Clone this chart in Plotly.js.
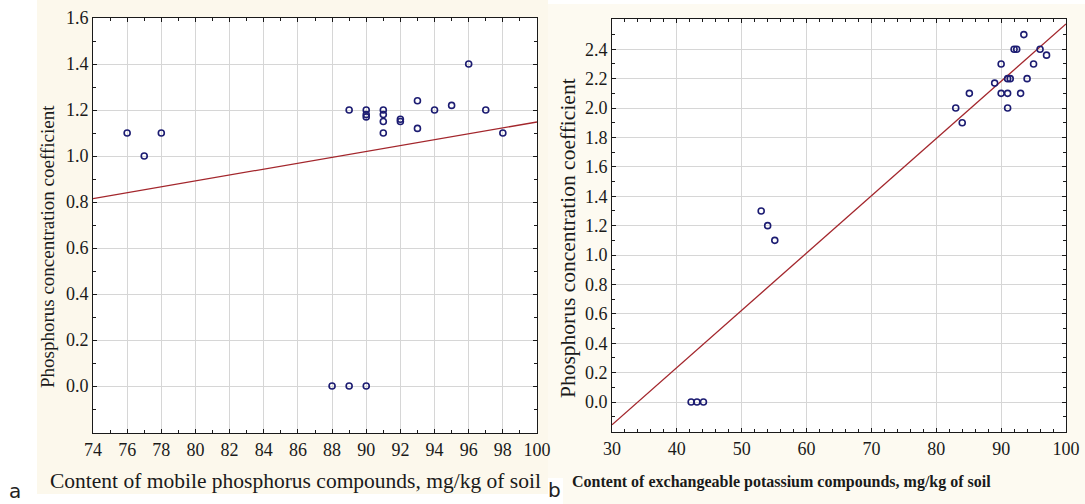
<!DOCTYPE html>
<html>
<head>
<meta charset="utf-8">
<script src="https://cdn.plot.ly/plotly-3.0.1.min.js"></script>
<style>html,body{margin:0;padding:0;background:#fff;}#chart{width:1085px;height:504px;}</style>
</head>
<body>
<div id="chart"></div>
<script>
// Panel a: mobile phosphorus vs phosphorus concentration coefficient
const phosX = [76, 77, 78, 88, 89, 90, 89, 90, 90, 90, 91, 91, 91, 91, 92, 92, 93, 93, 94, 95, 96, 97, 98];
const phosY = [1.10, 1.00, 1.10, 0.00, 0.00, 0.00, 1.20, 1.20, 1.18, 1.17, 1.20, 1.18, 1.15, 1.10, 1.16, 1.15, 1.24, 1.12, 1.20, 1.22, 1.40, 1.20, 1.10];
const phosFitX = [74, 100];
const phosFitY = [0.815, 1.148];
// Panel b: exchangeable potassium vs phosphorus concentration coefficient
const potX = [42.2, 43.1, 44.1, 53.0, 54.0, 55.1, 83.0, 84.0, 85.1, 89.0, 90.0, 90.0, 91.0, 91.4, 91.0, 91.0, 92.0, 92.4, 93.5, 93.0, 94.0, 95.0, 96.0, 97.0];
const potY = [0.00, 0.00, 0.00, 1.30, 1.20, 1.10, 2.00, 1.90, 2.10, 2.17, 2.30, 2.10, 2.20, 2.20, 2.10, 2.00, 2.40, 2.40, 2.50, 2.10, 2.20, 2.30, 2.40, 2.36];
const potFitX = [30, 100];
const potFitY = [-0.155, 2.572];
// Tick labels
const aXTicks = [74, 76, 78, 80, 82, 84, 86, 88, 90, 92, 94, 96, 98, 100];
const aYTicks = [0.0, 0.2, 0.4, 0.6, 0.8, 1.0, 1.2, 1.4, 1.6];
const bXTicks = [30, 40, 50, 60, 70, 80, 90, 100];
const bYTicks = [0.0, 0.2, 0.4, 0.6, 0.8, 1.0, 1.2, 1.4, 1.6, 1.8, 2.0, 2.2, 2.4];
const yTitle = "Phosphorus concentration coefficient";
const aXTitle = "Content of mobile phosphorus compounds, mg/kg of soil";
const bXTitle = "Content of exchangeable potassium compounds, mg/kg of soil";

const W = 1085, H = 504;
const px = v => v / W, py = v => 1 - v / H;
const serif = '"Liberation Serif", serif';
const markerStyle = {symbol: "circle-open", size: 6, color: "#1c1c72", line: {width: 1.6, color: "#1c1c72"}};
const fitStyle = {color: "#a3262c", width: 1.3};

const traces = [
  {x: phosFitX, y: phosFitY, xaxis: "x", yaxis: "y", mode: "lines", line: fitStyle, hoverinfo: "skip"},
  {x: phosX, y: phosY, xaxis: "x", yaxis: "y", mode: "markers", marker: markerStyle},
  {x: potFitX, y: potFitY, xaxis: "x2", yaxis: "y2", mode: "lines", line: fitStyle, hoverinfo: "skip"},
  {x: potX, y: potY, xaxis: "x2", yaxis: "y2", mode: "markers", marker: markerStyle}
];

function axis(extra) {
  return Object.assign({
    showline: true, mirror: "ticks", linecolor: "#1a1a1a", linewidth: 1,
    ticks: "inside", ticklen: 4, tickcolor: "#1a1a1a", tickwidth: 1,
    showgrid: true, gridcolor: "#d6d6d6", gridwidth: 1, zeroline: false,
    tickfont: {family: serif, size: 18, color: "#1a1a1a"}, tickmode: "array"
  }, extra);
}

const aDom = {x: [px(93), px(537)], y: [py(433), py(18)]};
const bDom = {x: [px(612), px(1066)], y: [py(432), py(19)]};

const layout = {
  width: W, height: H,
  margin: {l: 0, r: 0, t: 0, b: 0},
  font: {family: serif, size: 18, color: "#1a1a1a"},
  paper_bgcolor: "#ffffff", plot_bgcolor: "#ffffff",
  showlegend: false,
  xaxis: axis({domain: aDom.x, range: [74, 100], tickvals: aXTicks, ticktext: aXTicks.map(String),
    minor: {tickmode: "linear", dtick: 1, ticks: "inside", ticklen: 3, tickcolor: "#1a1a1a", showgrid: false}, anchor: "y"}),
  yaxis: axis({domain: aDom.y, range: [-0.204, 1.6], tickvals: aYTicks, ticktext: aYTicks.map(v => v.toFixed(1)),
    minor: {tickmode: "linear", dtick: 0.1, tick0: 0, ticks: "inside", ticklen: 3, tickcolor: "#1a1a1a", showgrid: false}, anchor: "x"}),
  xaxis2: axis({domain: bDom.x, range: [30, 100], tickvals: bXTicks, ticktext: bXTicks.map(String),
    minor: {tickmode: "linear", dtick: 2, ticks: "inside", ticklen: 3, tickcolor: "#1a1a1a", showgrid: false}, anchor: "y2"}),
  yaxis2: axis({domain: bDom.y, range: [-0.204, 2.606], tickvals: bYTicks, ticktext: bYTicks.map(v => v.toFixed(1)),
    minor: {tickmode: "linear", dtick: 0.1, tick0: 0, ticks: "inside", ticklen: 3, tickcolor: "#1a1a1a", showgrid: false}, anchor: "x2"}),
  shapes: [
    {type: "rect", xref: "paper", yref: "paper", x0: px(37), x1: px(548), y0: py(494), y1: py(0), fillcolor: "#fcf8ec", line: {width: 0}, layer: "below"},
    {type: "rect", xref: "paper", yref: "paper", x0: px(548), x1: px(1085), y0: py(478), y1: py(4), fillcolor: "#fdfaf1", line: {width: 0}, layer: "below"},
    {type: "rect", xref: "paper", yref: "paper", x0: px(563), x1: px(1085), y0: py(504), y1: py(478), fillcolor: "#fdfaf1", line: {width: 0}, layer: "below"},
    {type: "rect", xref: "paper", yref: "paper", x0: aDom.x[0], x1: aDom.x[1], y0: aDom.y[0], y1: aDom.y[1], fillcolor: "#ffffff", line: {width: 0}, layer: "below"},
    {type: "rect", xref: "paper", yref: "paper", x0: bDom.x[0], x1: bDom.x[1], y0: bDom.y[0], y1: bDom.y[1], fillcolor: "#ffffff", line: {width: 0}, layer: "below"}
  ],
  annotations: [
    {text: yTitle, xref: "paper", yref: "paper", x: px(47), y: py(247), textangle: -90, showarrow: false,
      font: {family: serif, size: 19, color: "#1a1a1a"}, xanchor: "center", yanchor: "middle"},
    {text: aXTitle, xref: "paper", yref: "paper", x: px(295), y: py(481), showarrow: false,
      font: {family: serif, size: 21.5, color: "#1a1a1a"}, xanchor: "center", yanchor: "middle"},
    {text: yTitle, xref: "paper", yref: "paper", x: px(568), y: py(238), textangle: -90, showarrow: false,
      font: {family: serif, size: 21.5, color: "#1a1a1a"}, xanchor: "center", yanchor: "middle"},
    {text: "<b>" + bXTitle + "</b>", xref: "paper", yref: "paper", x: px(781), y: py(482), showarrow: false,
      font: {family: serif, size: 16, color: "#1a1a1a"}, xanchor: "center", yanchor: "middle"},
    {text: "a", xref: "paper", yref: "paper", x: px(15), y: py(491), showarrow: false,
      font: {family: "DejaVu Sans, sans-serif", size: 20, color: "#222"}, xanchor: "center", yanchor: "middle"},
    {text: "b", xref: "paper", yref: "paper", x: px(554), y: py(490), showarrow: false,
      font: {family: "DejaVu Sans, sans-serif", size: 20, color: "#222"}, xanchor: "center", yanchor: "middle"}
  ]
};

Plotly.newPlot("chart", traces, layout, {displayModeBar: false, staticPlot: true});
</script>
</body>
</html>
